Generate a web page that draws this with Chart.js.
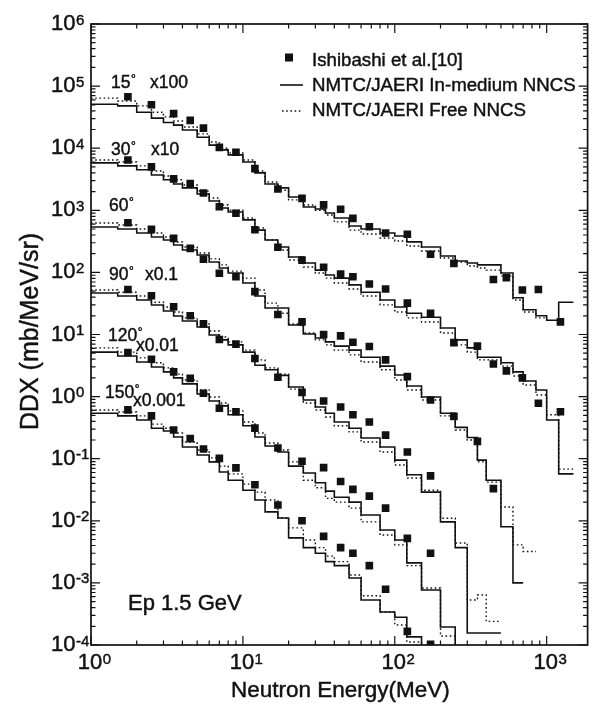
<!DOCTYPE html>
<html>
<head>
<meta charset="utf-8">
<script src="https://cdn.jsdelivr.net/npm/chart.js@4.4.1/dist/chart.umd.min.js"></script>
<style>
  html, body { margin: 0; padding: 0; background: #fff; }
  #wrap { width: 593px; height: 709px; }
</style>
</head>
<body>
<div id="wrap"><canvas id="ddx" width="593" height="709"></canvas></div>
<script>
// bin edges of the NMTC/JAERI spectra (MeV)
const binEdges = [1, 1.5, 2, 2.5, 3, 3.5, 4, 5, 6, 7, 8, 10, 12, 14, 17, 20, 25, 30, 35, 40,
  50, 60, 80, 100, 120, 150, 200, 250, 300, 350, 400, 500, 600, 700, 850, 1000, 1200, 1500];

// energies of the measured points (MeV)
const ptEnergy = [1.75, 2.5, 3.5, 4.5, 5.5, 7, 9, 12, 17, 24.5, 34, 44, 53, 68, 87, 121, 172,
  245, 350, 446, 543, 692, 882, 1232];

// Ishibashi et al. (already scaled by the factor written next to each angle)
const pts15 = [6.75e4, 5.0e4, 3.6e4, 2.8e4, 2.1e4, 1.03e4, 8600, 4700, 2200, 1560, 1220, 1040,
  743, 544, 431, 411, 196, 140, null, 77, 82, 52, 53, 16];
const pts30 = [6450, 5000, 3200, 2700, 1900, 1140, 895, 487, 254, 158, 121, 94, 85, 65, 54, 32,
  22, 7.4, 6.5, 3.35, 2.6, 2.0, 0.78, 0.57];
const pts60 = [631, 494, 354, 244, 163, 97, 85, 49, 21, 16, 10, 9.5, 7.5, 6.4, 3.9, 2.1, 0.88,
  0.48, 0.19, 0.033];
const pts90 = [53, 42, 28, 20, 14.8, 8.3, 7.0, 4.1, 2.05, 1.17, 0.85, 0.68, 0.51, 0.39, 0.24,
  0.128, 0.053];
const pts120 = [5.1, 4.0, 2.5, 1.97, 1.13, 0.65, 0.57, 0.31, 0.149, 0.091, 0.072, 0.043, 0.032,
  0.025, 0.016, 0.0052, 0.0030];
const pts150 = [0.61, 0.49, 0.29, 0.21, 0.143, 0.101, 0.071, 0.038, 0.018, 0.010, 0.0056, 0.0037,
  0.0030, 0.0019, 0.00079, 0.000166, 0.000103];

// NMTC/JAERI in-medium NNCS, one value per bin
const med15 = [5.1e4, 4.8e4, 3.8e4, 3.05e4, 2.6e4, 2.35e4, 1.96e4, 1.5e4, 1.12e4, 9400, 7800, 6000,
  4000, 2650, 2300, 1640, 1130, 1050, 905, 750, 560, 500, 430, 385, 310, 256, 184, 153, 142, 132,
  132, 98, 39, 25, 20, 17, 33];
const med30 = [5800, 5200, 4500, 3700, 3100, 2650, 2300, 1830, 1410, 1090, 940, 700, 480, 333, 256,
  177, 142, 109, 91, 81, 63, 48, 36, 27.7, 22, 19, 12.7, 8.2, 6.1, 4.3, 4.3, 3.5, 2.5, 1.78, 1.28,
  0.42, 0.057];
const med60 = [538, 500, 431, 371, 333, 276, 229, 191, 147, 118, 98, 67.5, 41.7, 26.7, 26.7, 14.2,
  10.2, 8.8, 7.6, 6.5, 5.6, 4.3, 3.1, 2.23, 1.48, 0.985, 0.54, 0.32, 0.22, 0.095, 0.045, 0.008,
  0.001];
const med90 = [46.6, 41.7, 36, 29.9, 23.9, 19.9, 16.5, 13.2, 9.8, 8.2, 6.8, 5.2, 3.2, 2.7, 2.2, 1.43,
  0.88, 0.68, 0.54, 0.39, 0.31, 0.216, 0.154, 0.095, 0.055, 0.029, 0.0096, 0.0037, 0.000156,
  0.000156, 0.000156];
const med120 = [5.2, 4.5, 3.6, 3.0, 2.5, 2.0, 1.6, 1.1, 0.85, 0.71, 0.51, 0.34, 0.224, 0.16, 0.128,
  0.076, 0.059, 0.041, 0.030, 0.024, 0.020, 0.0124, 0.0071, 0.0049, 0.0021, 0.00077, 0.000195,
  0.00003];
const med150 = [0.54, 0.49, 0.42, 0.31, 0.28, 0.224, 0.154, 0.115, 0.089, 0.061, 0.045, 0.031,
  0.0216, 0.0139, 0.0111, 0.0053, 0.0037, 0.0030, 0.0022, 0.0019, 0.0012, 0.00053, 0.00034,
  0.00028, 0.000135, 0.00003];

// NMTC/JAERI free NNCS, one value per bin
const free15 = [6.4e4, 5.75e4, 4.8e4, 3.8e4, 3.2e4, 2.74e4, 2.2e4, 1.7e4, 1.26e4, 1.0e4, 8400, 6450,
  4300, 2850, 2100, 1470, 1220, 1000, 840, 650, 480, 415, 358, 320, 266, 221, 171, 147, 127, 118,
  109, 88, 36, 23, 18.5];
const free30 = [6450, 6000, 5200, 4300, 3570, 3100, 2550, 2050, 1580, 1220, 1000, 750, 520, 333,
  229, 158, 122, 98, 81, 67.5, 54, 41.7, 30, 23, 18.5, 15.9, 10.6, 6.8, 5.2, 3.9, 3.9, 3.1, 2.15,
  1.54, 1.06, 0.51, 0.068];
const free60 = [625, 580, 500, 431, 371, 309, 256, 205, 165, 132, 105, 81, 52, 32, 22, 14.8, 10.6,
  8.2, 6.8, 5.6, 4.7, 3.6, 2.7, 1.85, 1.28, 0.88, 0.49, 0.29, 0.2, 0.089, 0.042, 0.0167, 0.0041,
  0.0032];
const free90 = [52, 48, 41.7, 33, 27.7, 23, 18.5, 14.8, 11.4, 9.1, 7.6, 5.6, 3.9, 2.9, 2.3, 1.32,
  0.79, 0.61, 0.47, 0.34, 0.27, 0.186, 0.128, 0.079, 0.049, 0.031, 0.011, 0.0044, 0.00053,
  0.00064, 0.00024];
const free120 = [6.1, 5.2, 4.2, 3.5, 2.9, 2.3, 1.85, 1.28, 0.985, 0.79, 0.59, 0.39, 0.26, 0.179,
  0.138, 0.089, 0.045, 0.034, 0.023, 0.020, 0.016, 0.0096, 0.0059, 0.0041, 0.0019, 0.00083,
  0.00014, 0.00003];
const free150 = [0.61, 0.565, 0.49, 0.36, 0.31, 0.26, 0.186, 0.138, 0.103, 0.076, 0.057, 0.039,
  0.029, 0.0216, 0.0111, 0.0077, 0.0049, 0.0037, 0.0027, 0.0022, 0.00134, 0.00062, 0.00034,
  0.00021, 0.000112, 0.00003];

const yDecades = [-4, -3, -2, -1, 0, 1, 2, 3, 4, 5, 6];
const xDecades = [0, 1, 2, 3];

const FONT = "'Liberation Sans', Arial, Helvetica, sans-serif";
const INK = '#111';

// histogram: value i holds from binEdges[i] to binEdges[i+1]
function histo (vals) {
  const out = vals.map((v, i) => ({ x: binEdges[i], y: v }));
  out.push({ x: binEdges[vals.length], y: vals[vals.length - 1] });
  return out;
}

function marks (vals) {
  return vals.map((v, i) => ({ x: ptEnergy[i], y: v })).filter(p => p.y !== null);
}

const groups = [
  [pts15, med15, free15],
  [pts30, med30, free30],
  [pts60, med60, free60],
  [pts90, med90, free90],
  [pts120, med120, free120],
  [pts150, med150, free150]
];

const datasets = [];
groups.forEach(([p, m, f]) => {
  datasets.push({
    data: histo(f), stepped: 'before', borderColor: INK, borderWidth: 1.4,
    borderDash: [1.6, 2.6], pointRadius: 0, fill: false
  });
  datasets.push({
    data: histo(m), stepped: 'before', borderColor: INK, borderWidth: 1.6,
    pointRadius: 0, fill: false
  });
  datasets.push({
    data: marks(p), showLine: false, pointStyle: 'rect', pointRadius: 5.4,
    pointBackgroundColor: INK, pointBorderColor: INK, pointBorderWidth: 0
  });
});

// heavy text, like the scanned original
function ink (ctx, text, x, y) {
  ctx.fillText(text, x, y);
  ctx.strokeText(text, x, y);
}

// superscripted "10^n" label
function powLabel (ctx, cx, cy, exp, align) {
  ctx.font = `22px ${FONT}`;
  ctx.textBaseline = 'middle';
  const base = ctx.measureText('10').width;
  const left = align === 'right' ? cx - base : cx - base / 2;
  ctx.textAlign = 'left';
  ink(ctx, '10', left, cy);
  ctx.font = `15px ${FONT}`;
  ctx.textBaseline = 'alphabetic';
  ink(ctx, String(exp), left + base + 0.5, cy + 0.5);
}

const frame = {
  id: 'frame',
  afterDraw (chart) {
    const { ctx, chartArea: a, scales: { x, y } } = chart;
    ctx.save();
    ctx.fillStyle = INK;
    ctx.strokeStyle = INK;

    // ticks on four sides
    ctx.lineWidth = 1.2;
    ctx.beginPath();
    yDecades.forEach(e => {
      const py = y.getPixelForValue(Math.pow(10, e));
      ctx.moveTo(a.left, py); ctx.lineTo(a.left + 9, py);
      ctx.moveTo(a.right, py); ctx.lineTo(a.right - 9, py);
      if (e < 6) {
        for (let m = 2; m <= 9; m++) {
          const q = y.getPixelForValue(m * Math.pow(10, e));
          ctx.moveTo(a.left, q); ctx.lineTo(a.left + 4.5, q);
          ctx.moveTo(a.right, q); ctx.lineTo(a.right - 4.5, q);
        }
      }
    });
    xDecades.forEach(e => {
      const px = x.getPixelForValue(Math.pow(10, e));
      ctx.moveTo(px, a.bottom); ctx.lineTo(px, a.bottom - 9);
      ctx.moveTo(px, a.top); ctx.lineTo(px, a.top + 9);
      for (let m = 2; m <= 9; m++) {
        const v = m * Math.pow(10, e);
        if (v > x.max) break;
        const q = x.getPixelForValue(v);
        ctx.moveTo(q, a.bottom); ctx.lineTo(q, a.bottom - 4.5);
        ctx.moveTo(q, a.top); ctx.lineTo(q, a.top + 4.5);
      }
    });
    ctx.stroke();

    ctx.lineWidth = 1.7;
    ctx.strokeRect(a.left, a.top, a.right - a.left, a.bottom - a.top);

    ctx.lineWidth = 0.45;
    ctx.lineJoin = 'round';

    // tick labels
    yDecades.forEach(e => {
      const py = y.getPixelForValue(Math.pow(10, e));
      powLabel(ctx, 75.5, py, e, 'right');
    });
    xDecades.forEach(e => {
      const px = x.getPixelForValue(Math.pow(10, e));
      powLabel(ctx, px - 1, a.bottom + 18, e, 'center');
    });

    // axis titles
    ctx.font = `22.5px ${FONT}`;
    ctx.textAlign = 'center';
    ctx.textBaseline = 'alphabetic';
    ink(ctx, 'Neutron Energy(MeV)', (a.left + a.right) / 2 + 1, 697);
    ctx.save();
    ctx.translate(37.5, 331.5);
    ctx.rotate(-Math.PI / 2);
    ctx.font = `25px ${FONT}`;
    ink(ctx, 'DDX (mb/MeV/sr)', 0, 0);
    ctx.restore();

    // angle notes
    const notes = [
      ['15', 111, 88, 'x100', 150, 88],
      ['30', 111, 155, 'x10', 151, 155],
      ['60', 109, 211, '', 0, 0],
      ['90', 109, 280, 'x0.1', 145, 280],
      ['120', 108, 341, 'x0.01', 136, 351],
      ['150', 105, 398, 'x0.001', 133, 406]
    ];
    ctx.textAlign = 'left';
    notes.forEach(([deg, nx, ny, mul, mx, my]) => {
      ctx.font = `17.5px ${FONT}`;
      ink(ctx, deg, nx, ny);
      const w = ctx.measureText(deg).width;
      ctx.font = `12px ${FONT}`;
      ink(ctx, '°', nx + w + 0.5, ny - 5);
      if (mul) {
        ctx.font = `17.5px ${FONT}`;
        ink(ctx, mul, mx, my);
      }
    });

    ctx.font = `22px ${FONT}`;
    ink(ctx, 'Ep 1.5 GeV', 128, 610);

    // legend
    ctx.fillRect(285, 53.5, 8, 8);
    ctx.lineWidth = 1.6;
    ctx.beginPath();
    ctx.moveTo(280, 85); ctx.lineTo(303, 85);
    ctx.stroke();
    ctx.lineWidth = 1.4;
    ctx.setLineDash([1.6, 2.6]);
    ctx.beginPath();
    ctx.moveTo(282, 111); ctx.lineTo(303, 111);
    ctx.stroke();
    ctx.setLineDash([]);
    ctx.lineWidth = 0.45;
    ctx.font = `18.7px ${FONT}`;
    ink(ctx, 'Ishibashi et al.[10]', 312, 66);
    ink(ctx, 'NMTC/JAERI In-medium NNCS', 312, 91);
    ink(ctx, 'NMTC/JAERI Free NNCS', 312, 116);

    ctx.restore();
  }
};

new Chart(document.getElementById('ddx'), {
  type: 'line',
  data: { datasets },
  options: {
    responsive: false,
    animation: false,
    devicePixelRatio: 1,
    layout: { padding: { top: 24, right: 5, left: 0, bottom: 0 } },
    plugins: { legend: { display: false }, tooltip: { enabled: false } },
    elements: { line: { tension: 0 } },
    scales: {
      x: {
        type: 'logarithmic', min: 1, max: 1860,
        ticks: { display: false }, grid: { display: false }, border: { display: false },
        afterFit: (s) => { s.height = 64; }
      },
      y: {
        type: 'logarithmic', min: 1e-4, max: 1e6,
        ticks: { display: false }, grid: { display: false }, border: { display: false },
        afterFit: (s) => { s.width = 91; }
      }
    }
  },
  plugins: [frame]
});
</script>
</body>
</html>
